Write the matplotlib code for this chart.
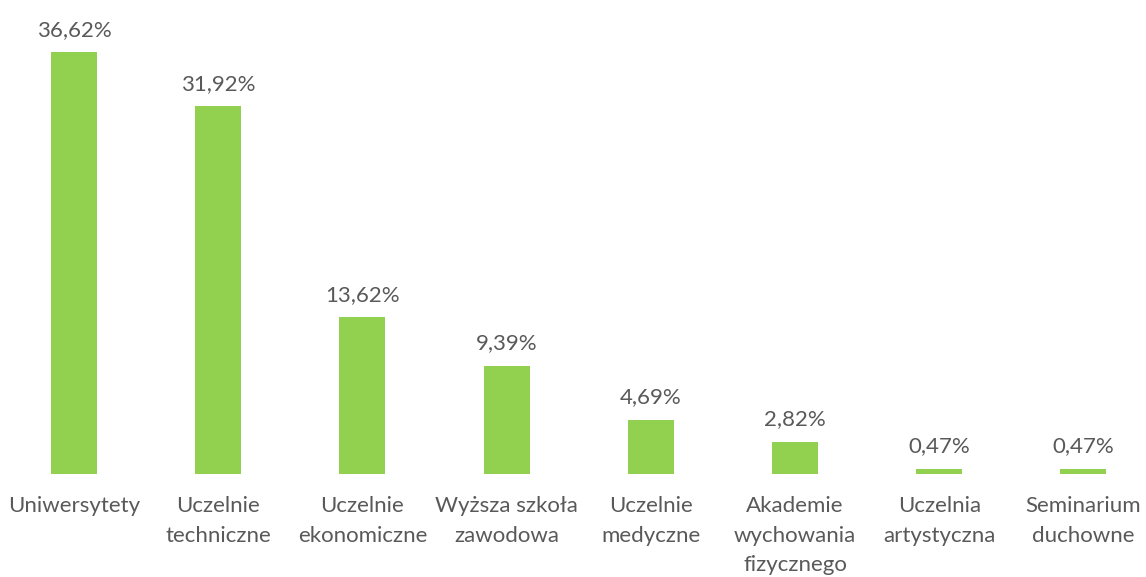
import matplotlib
matplotlib.use("Agg")
import matplotlib.pyplot as plt

categories = ["Uniwersytety", "Uczelnie\ntechniczne", "Uczelnie\nekonomiczne",
              "Wyższa szkoła\nzawodowa", "Uczelnie\nmedyczne",
              "Akademie\nwychowania\nfizycznego", "Uczelnia\nartystyczna",
              "Seminarium\nduchowne"]
values = [36.62, 31.92, 13.62, 9.39, 4.69, 2.82, 0.47, 0.47]
labels = ["36,62%", "31,92%", "13,62%", "9,39%", "4,69%", "2,82%", "0,47%", "0,47%"]

plt.rcParams['font.family'] = ['Lato', 'DejaVu Sans']
text_color = '#595959'

fig = plt.figure(figsize=(11.46, 5.77), dpi=100)
ax = fig.add_axes([0, 0.1785, 1, 0.8215])

x = range(len(values))
bars = ax.bar(x, values, width=0.32, color='#92D050')

for i, v in enumerate(values):
    ax.annotate(labels[i], (i, v), xytext=(0, 9), textcoords='offset points',
                ha='center', va='bottom', fontsize=16, color=text_color)

ax.set_xlim(-0.513, 7.434)
ax.set_ylim(0, 41.15)
ax.set_xticks(list(x))
ax.set_xticklabels(categories, fontsize=16, color=text_color, linespacing=1.58)
ax.tick_params(axis='x', length=0, pad=16)
ax.set_yticks([])
for s in ax.spines.values():
    s.set_visible(False)

fig.savefig('out.png', dpi=100)
